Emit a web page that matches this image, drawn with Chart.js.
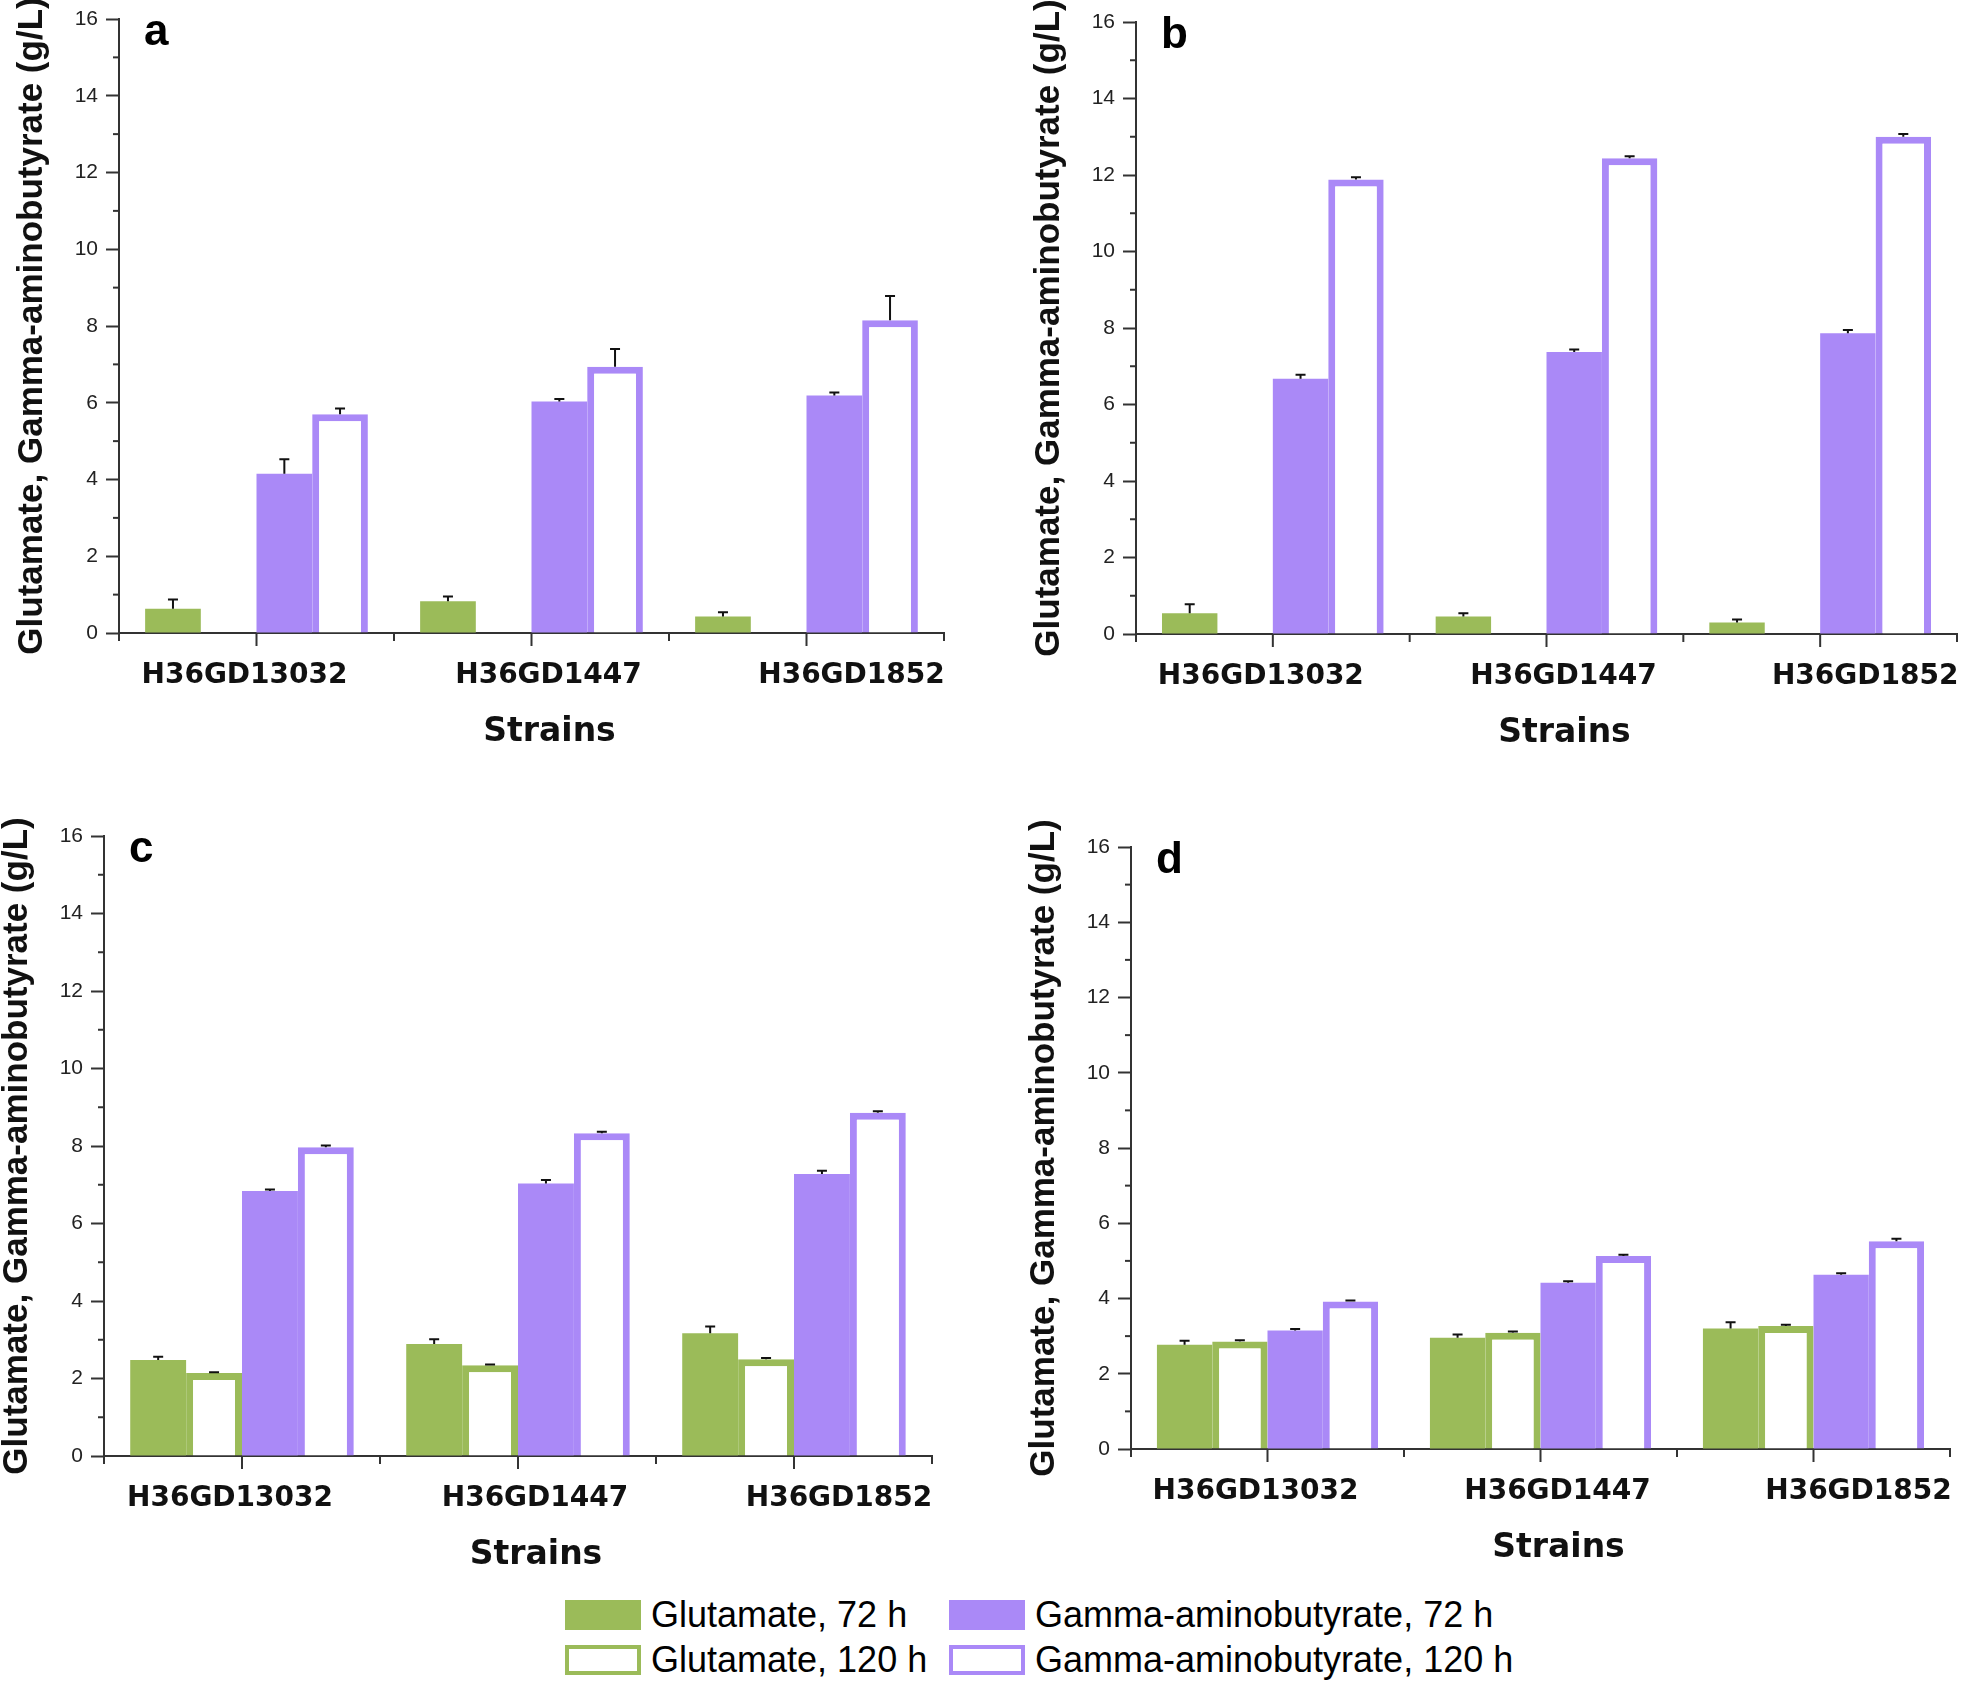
<!DOCTYPE html>
<html>
<head>
<meta charset="utf-8">
<title>Glutamate and gamma-aminobutyrate production by strains</title>
<script src="https://cdn.jsdelivr.net/npm/chart.js@4.4.1/dist/chart.umd.min.js"></script>
<style>
  html, body { margin: 0; padding: 0; background: #fff; }
  body { width: 1961px; height: 1684px; position: relative; overflow: hidden; }
  canvas { position: absolute; }
  .item {
    position: absolute; display: flex; align-items: center; white-space: nowrap;
    font-family: "Liberation Sans", Arial, sans-serif; font-size: 36px; color: #000;
    height: 40px;
  }
  .swatch { width: 76px; height: 30px; box-sizing: border-box; margin-right: 10px; }
</style>
</head>
<body>
<canvas id="panel-a"></canvas>
<canvas id="panel-b"></canvas>
<canvas id="panel-c"></canvas>
<canvas id="panel-d"></canvas>
<div id="legend"></div>

<script>
// Strains and series
const categories = ['H36GD13032', 'H36GD1447', 'H36GD1852'];
const seriesNames = ['Glutamate, 72 h', 'Glutamate, 120 h', 'Gamma-aminobutyrate, 72 h', 'Gamma-aminobutyrate, 120 h'];
const yTicks = [0, 2, 4, 6, 8, 10, 12, 14, 16];

// Panel a
const aGlu72 = [0.63, 0.83, 0.43];
const aGlu72Err = [0.24, 0.12, 0.11];
const aGlu120 = [null, null, null];
const aGlu120Err = [0, 0, 0];
const aGaba72 = [4.15, 6.03, 6.19];
const aGaba72Err = [0.38, 0.07, 0.08];
const aGaba120 = [5.70, 6.94, 8.15];
const aGaba120Err = [0.15, 0.46, 0.63];

// Panel b
const bGlu72 = [0.54, 0.46, 0.30];
const bGlu72Err = [0.24, 0.08, 0.08];
const bGlu120 = [null, null, null];
const bGlu120Err = [0, 0, 0];
const bGaba72 = [6.67, 7.37, 7.86];
const bGaba72Err = [0.11, 0.07, 0.09];
const bGaba120 = [11.88, 12.44, 13.0];
const bGaba120Err = [0.06, 0.05, 0.07];

// Panel c
const cGlu72 = [2.48, 2.89, 3.17];
const cGlu72Err = [0.08, 0.12, 0.17];
const cGlu120 = [2.14, 2.34, 2.50];
const cGlu120Err = [0.02, 0.02, 0.03];
const cGaba72 = [6.84, 7.03, 7.28];
const cGaba72Err = [0.04, 0.09, 0.08];
const cGaba120 = [7.97, 8.33, 8.86];
const cGaba120Err = [0.04, 0.04, 0.04];

// Panel d
const dGlu72 = [2.77, 2.96, 3.20];
const dGlu72Err = [0.11, 0.08, 0.17];
const dGlu120 = [2.86, 3.09, 3.27];
const dGlu120Err = [0.03, 0.03, 0.03];
const dGaba72 = [3.15, 4.42, 4.63];
const dGaba72Err = [0.04, 0.04, 0.04];
const dGaba120 = [3.92, 5.13, 5.52];
const dGaba120Err = [0.03, 0.03, 0.07];

const GREEN = '#9bbb59';
const PURPLE = '#aa89f7';
const AXIS = '#333';

Chart.defaults.font.family = '"Liberation Sans", Arial, sans-serif';

// draws upward error bars on top of each bar
const errorBars = {
    id: 'errorBars',
    afterDatasetsDraw(chart) {
        const ctx = chart.ctx;
        const ys = chart.scales.y;
        ctx.save();
        ctx.strokeStyle = '#111';
        ctx.lineWidth = 2;
        chart.data.datasets.forEach((ds, i) => {
            chart.getDatasetMeta(i).data.forEach((bar, j) => {
                const v = ds.data[j];
                const e = ds.errors[j];
                if (v == null || !e) return;
                const yTop = ys.getPixelForValue(v + e);
                ctx.beginPath();
                ctx.moveTo(bar.x, bar.y);
                ctx.lineTo(bar.x, yTop);
                ctx.moveTo(bar.x - 5, yTop);
                ctx.lineTo(bar.x + 5, yTop);
                ctx.stroke();
            });
        });
        ctx.restore();
    }
};

// minor y ticks, x ticks, category labels, x title, panel letter
const axisExtras = {
    id: 'axisExtras',
    afterDraw(chart, args, opts) {
        const { ctx, chartArea } = chart;
        const xs = chart.scales.x;
        const ys = chart.scales.y;
        const bottom = chartArea.bottom;
        ctx.save();
        ctx.strokeStyle = AXIS;
        ctx.lineWidth = 2;

        function seg(x1, y1, x2, y2) {
            ctx.beginPath();
            ctx.moveTo(x1, y1);
            ctx.lineTo(x2, y2);
            ctx.stroke();
        }

        for (let v = 1; v < 16; v += 2) {
            const y = ys.getPixelForValue(v);
            seg(chartArea.left - 6, y, chartArea.left, y);
        }

        const half = (xs.getPixelForTick(1) - xs.getPixelForTick(0)) / 2;
        xs.ticks.forEach((t, i) => {
            const cx = xs.getPixelForTick(i);
            seg(cx, bottom, cx, bottom + 13);
            seg(cx - half, bottom, cx - half, bottom + 8);
            if (i === xs.ticks.length - 1) seg(cx + half, bottom, cx + half, bottom + 8);
        });

        ctx.fillStyle = '#111';
        ctx.font = 'bold 28px "DejaVu Sans"';
        ctx.textAlign = 'center';
        ctx.textBaseline = 'middle';
        xs.ticks.forEach((t, i) => {
            ctx.fillText(chart.data.labels[i], xs.getPixelForTick(i) + opts.labelShift[i], bottom + 43);
        });

        ctx.font = 'bold 33px "DejaVu Sans"';
        ctx.fillText(opts.xTitle, (chartArea.left + chartArea.right) / 2 + 18, bottom + 99);

        ctx.fillStyle = '#000';
        ctx.font = 'bold 44px "Liberation Sans"';
        ctx.textAlign = 'left';
        ctx.textBaseline = 'alphabetic';
        ctx.fillText(opts.letter, chartArea.left + 25, chartArea.top + 26);
        ctx.restore();
    }
};

function buildChart(id, box, letter, glu72, glu72Err, glu120, glu120Err, gaba72, gaba72Err, gaba120, gaba120Err) {
    const yAxisWidth = 119;
    const xAxisHeight = 130;
    const padTop = 45;
    const padRight = 40;
    const canvas = document.getElementById(id);
    const left = box.axisX - yAxisWidth;
    canvas.width = box.right - left + padRight;
    canvas.height = box.zero - box.top + padTop + xAxisHeight;
    canvas.style.left = left + 'px';
    canvas.style.top = (box.top - padTop) + 'px';

    return new Chart(canvas.getContext('2d'), {
        type: 'bar',
        data: {
            labels: categories,
            datasets: [
                { label: seriesNames[0], data: glu72, errors: glu72Err, backgroundColor: GREEN, borderWidth: 0 },
                { label: seriesNames[1], data: glu120, errors: glu120Err, backgroundColor: '#fff', borderColor: GREEN, borderWidth: 7 },
                { label: seriesNames[2], data: gaba72, errors: gaba72Err, backgroundColor: PURPLE, borderWidth: 0 },
                { label: seriesNames[3], data: gaba120, errors: gaba120Err, backgroundColor: '#fff', borderColor: PURPLE, borderWidth: 7 }
            ]
        },
        options: {
            responsive: false,
            animation: false,
            devicePixelRatio: 1,
            categoryPercentage: 0.81,
            barPercentage: 1.0,
            layout: { padding: { top: padTop, right: padRight, left: 0, bottom: 0 } },
            plugins: {
                legend: { display: false },
                tooltip: { enabled: false },
                axisExtras: { letter: letter, xTitle: 'Strains', labelShift: [-12, 17, 45] }
            },
            scales: {
                x: {
                    grid: { display: false },
                    border: { display: true, color: AXIS, width: 2 },
                    ticks: { display: false },
                    afterFit(scale) { scale.height = xAxisHeight; }
                },
                y: {
                    min: 0,
                    max: 16,
                    afterBuildTicks(scale) { scale.ticks = yTicks.map(v => ({ value: v })); },
                    ticks: { color: '#222', font: { size: 21 }, padding: 8 },
                    grid: { drawOnChartArea: false, drawTicks: true, tickLength: 13, tickWidth: 2, tickColor: AXIS },
                    border: { display: true, color: AXIS, width: 2 },
                    title: {
                        display: true,
                        text: 'Glutamate, Gamma-aminobutyrate (g/L)',
                        color: '#111',
                        font: { weight: 'bold', size: 35 },
                        padding: { top: 11, bottom: 0 }
                    },
                    afterFit(scale) { scale.width = yAxisWidth; }
                }
            }
        },
        plugins: [errorBars, axisExtras]
    });
}

buildChart('panel-a', { axisX: 119, top: 19, zero: 633, right: 944 }, 'a',
    aGlu72, aGlu72Err, aGlu120, aGlu120Err, aGaba72, aGaba72Err, aGaba120, aGaba120Err);
buildChart('panel-b', { axisX: 1136, top: 22, zero: 634, right: 1957 }, 'b',
    bGlu72, bGlu72Err, bGlu120, bGlu120Err, bGaba72, bGaba72Err, bGaba120, bGaba120Err);
buildChart('panel-c', { axisX: 104, top: 836, zero: 1456, right: 932 }, 'c',
    cGlu72, cGlu72Err, cGlu120, cGlu120Err, cGaba72, cGaba72Err, cGaba120, cGaba120Err);
buildChart('panel-d', { axisX: 1131, top: 847, zero: 1449, right: 1950 }, 'd',
    dGlu72, dGlu72Err, dGlu120, dGlu120Err, dGaba72, dGaba72Err, dGaba120, dGaba120Err);

// shared legend, two columns
const legendFill = [GREEN, '#fff', PURPLE, '#fff'];
const legendBorder = [null, GREEN, null, PURPLE];
const legendEl = document.getElementById('legend');
seriesNames.forEach((name, i) => {
    const item = document.createElement('div');
    item.className = 'item';
    item.style.left = (i < 2 ? 565 : 949) + 'px';
    item.style.top = ((i % 2 === 0 ? 1615 : 1660) - 20) + 'px';
    const sw = document.createElement('span');
    sw.className = 'swatch';
    sw.style.background = legendFill[i];
    if (legendBorder[i]) sw.style.border = '4px solid ' + legendBorder[i];
    const label = document.createElement('span');
    label.textContent = name;
    item.appendChild(sw);
    item.appendChild(label);
    legendEl.appendChild(item);
});
</script>
</body>
</html>
